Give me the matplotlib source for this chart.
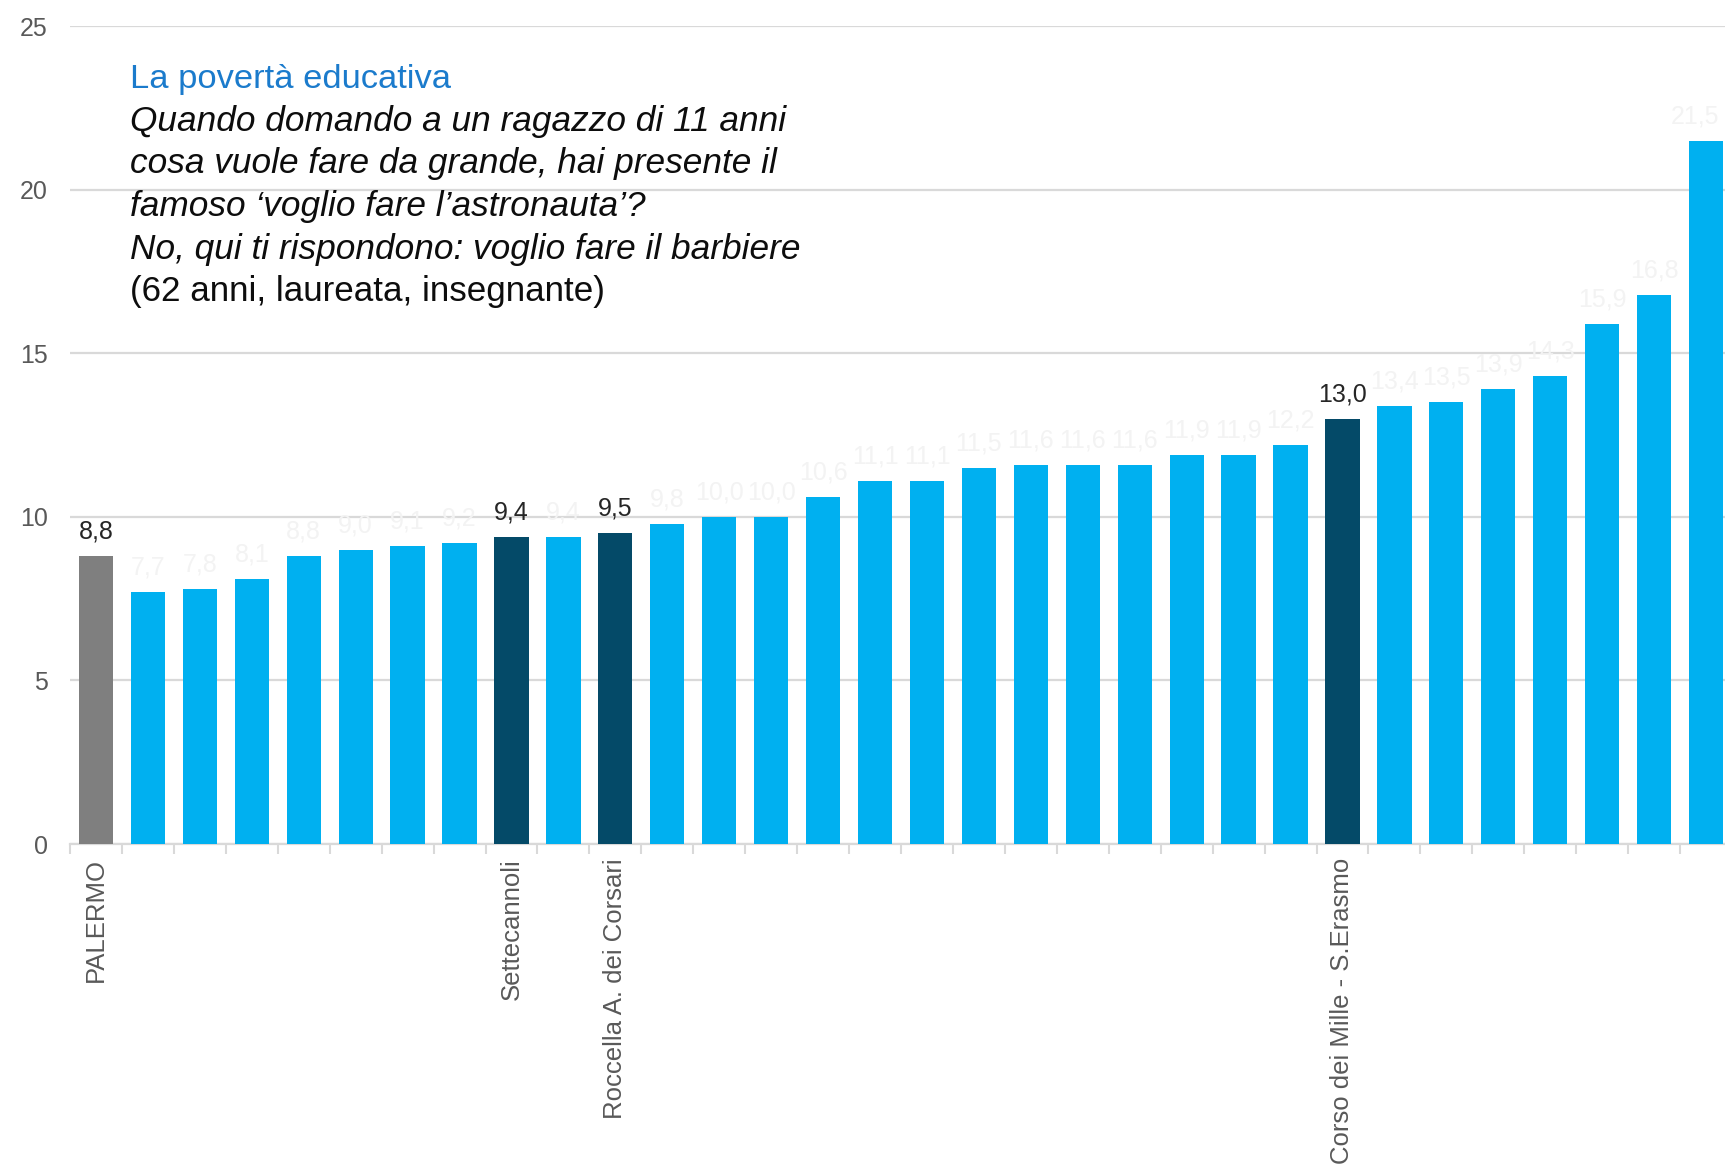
import matplotlib
matplotlib.use("Agg")
import matplotlib.pyplot as plt
import numpy as np

plt.rcParams['font.family'] = ['Liberation Sans', 'DejaVu Sans']

categories = ["PALERMO", "", "", "", "", "", "", "", "Settecannoli", "",
              "Roccella A. dei Corsari", "", "", "", "", "", "", "", "", "",
              "", "", "", "", "Corso dei Mille - S.Erasmo", "", "", "", "", "",
              "", ""]
values = [8.8, 7.7, 7.8, 8.1, 8.8, 9.0, 9.1, 9.2, 9.4, 9.4,
          9.5, 9.8, 10.0, 10.0, 10.6, 11.1, 11.1, 11.5, 11.6, 11.6,
          11.6, 11.9, 11.9, 12.2, 13.0, 13.4, 13.5, 13.9, 14.3, 15.9,
          16.8, 21.5]
yticks = [0, 5, 10, 15, 20, 25]

title_line = "La povertà educativa"
quote_lines = ["Quando domando a un ragazzo di 11 anni",
               "cosa vuole fare da grande, hai presente il",
               "famoso ‘voglio fare l’astronauta’?",
               "No, qui ti rispondono: voglio fare il barbiere"]
source_line = "(62 anni, laureata, insegnante)"

W, H = 1725, 1174
fig = plt.figure(figsize=(W / 100, H / 100), dpi=100)
ax = fig.add_axes([70 / W, 1 - 844 / H, 1662 / W, (844 - 26.4) / H])

LIGHT = "#00B0F0"
DARK = "#044A68"
GREY = "#7F7F7F"
colors = []
for c in categories:
    if c == "PALERMO":
        colors.append(GREY)
    elif c:
        colors.append(DARK)
    else:
        colors.append(LIGHT)

x = np.arange(len(values))
ax.bar(x, values, width=0.66, color=colors, zorder=3)

n = len(values)
for xi, v, c in zip(x, values, categories):
    col = "#262626" if c else "#F3F3F3"
    dx = -8 if xi == n - 1 else 0
    ax.annotate(f"{v:.1f}".replace(".", ","), (xi, v), xytext=(dx, 9),
                textcoords="offset points", ha="center", va="bottom",
                fontsize=18, color=col, zorder=4, annotation_clip=False)

ax.set_xlim(-0.5, n - 0.5)
ax.set_ylim(0, 25)
ax.set_yticks(yticks)
ax.set_yticklabels([str(t) for t in yticks])
ax.yaxis.grid(True, color="#D9D9D9", linewidth=1.6, zorder=0)
ax.set_axisbelow(True)
ax.tick_params(axis="y", length=0, pad=16, labelsize=18, labelcolor="#595959")

ax.set_xticks(x)
ax.set_xticklabels(categories, rotation=90, fontsize=18.5, color="#595959")
ax.set_xticks(np.arange(n + 1) - 0.5, minor=True)
ax.tick_params(axis="x", which="major", length=0, pad=10)
ax.tick_params(axis="x", which="minor", length=7, width=1.5, color="#D9D9D9")

for s in ["left", "top", "right"]:
    ax.spines[s].set_visible(False)
ax.spines["bottom"].set_color("#D9D9D9")
ax.spines["bottom"].set_linewidth(1.6)

tx = 130 / W
baselines = [88, 131, 173.5, 216, 258.5, 301]
fig.text(tx, 1 - baselines[0] / H, title_line, fontsize=24.8, color="#1B7BCC",
         va="baseline", ha="left")
for b, line in zip(baselines[1:5], quote_lines):
    fig.text(tx, 1 - b / H, line, fontsize=25.4, style="italic", color="#0D0D0D",
             va="baseline", ha="left")
fig.text(tx, 1 - baselines[5] / H, source_line, fontsize=25.2, color="#0D0D0D",
         va="baseline", ha="left")

fig.savefig("out.png", dpi=100, facecolor="white")
